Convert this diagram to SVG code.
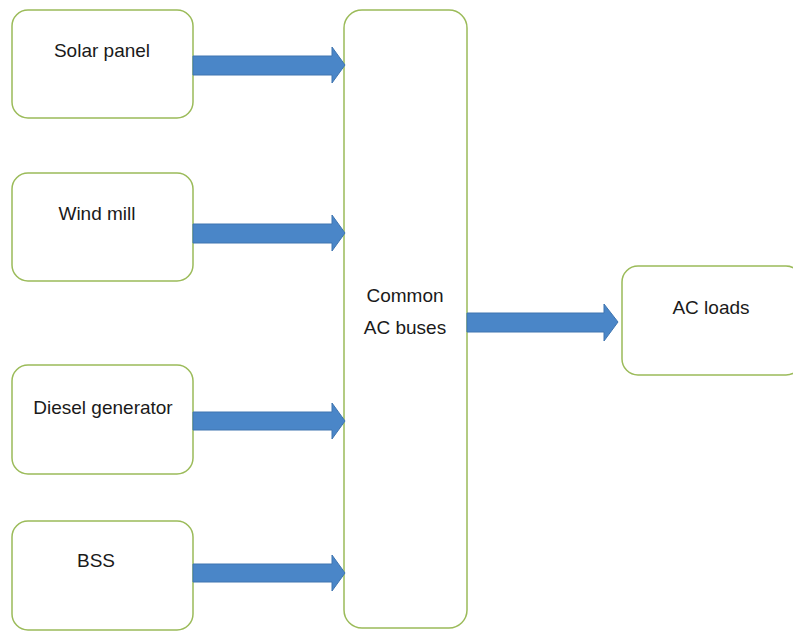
<svg xmlns="http://www.w3.org/2000/svg" width="793" height="632" viewBox="0 0 793 632">
<style>
.box{fill:#fff;stroke:#9bbb59;stroke-width:1.5}
.lbl{font-family:"Liberation Sans",Arial,sans-serif;font-size:19px;fill:#1a1a1a;text-anchor:middle}
.arr{fill:#4a86c8;stroke:#3f75b0;stroke-width:1}
</style>
<rect width="793" height="632" fill="#fff"/>
<g id="solar"><rect class="box" x="12" y="10" width="181" height="108" rx="16"/><text class="lbl" x="102" y="57">Solar panel</text></g>
<g id="wind"><rect class="box" x="12" y="173" width="181" height="108" rx="16"/><text class="lbl" x="97" y="220">Wind mill</text></g>
<g id="diesel"><rect class="box" x="12" y="365" width="181" height="109" rx="16"/><text class="lbl" x="103" y="414">Diesel generator</text></g>
<g id="bss"><rect class="box" x="12" y="521" width="181" height="109" rx="16"/><text class="lbl" x="96" y="567">BSS</text></g>
<g id="bus"><rect class="box" x="344" y="10" width="123" height="618" rx="18"/><text class="lbl" x="405" y="302">Common</text><text class="lbl" x="405" y="334">AC buses</text></g>
<g id="loads"><rect class="box" x="622" y="266" width="180" height="109" rx="16"/><text class="lbl" x="711" y="314">AC loads</text></g>
<g id="connectors">
<polygon class="arr" points="193,56 332,56 332,47 345,65 332,83 332,75 193,75"/>
<polygon class="arr" points="193,224 332,224 332,215 345,233 332,251 332,243 193,243"/>
<polygon class="arr" points="193,412 332,412 332,403 345,421 332,439 332,430 193,430"/>
<polygon class="arr" points="193,564 332,564 332,555 345,573 332,591 332,582 193,582"/>
<polygon class="arr" points="467,313 604,313 604,304 618,322 604,341 604,332 467,332"/>
</g>
</svg>
